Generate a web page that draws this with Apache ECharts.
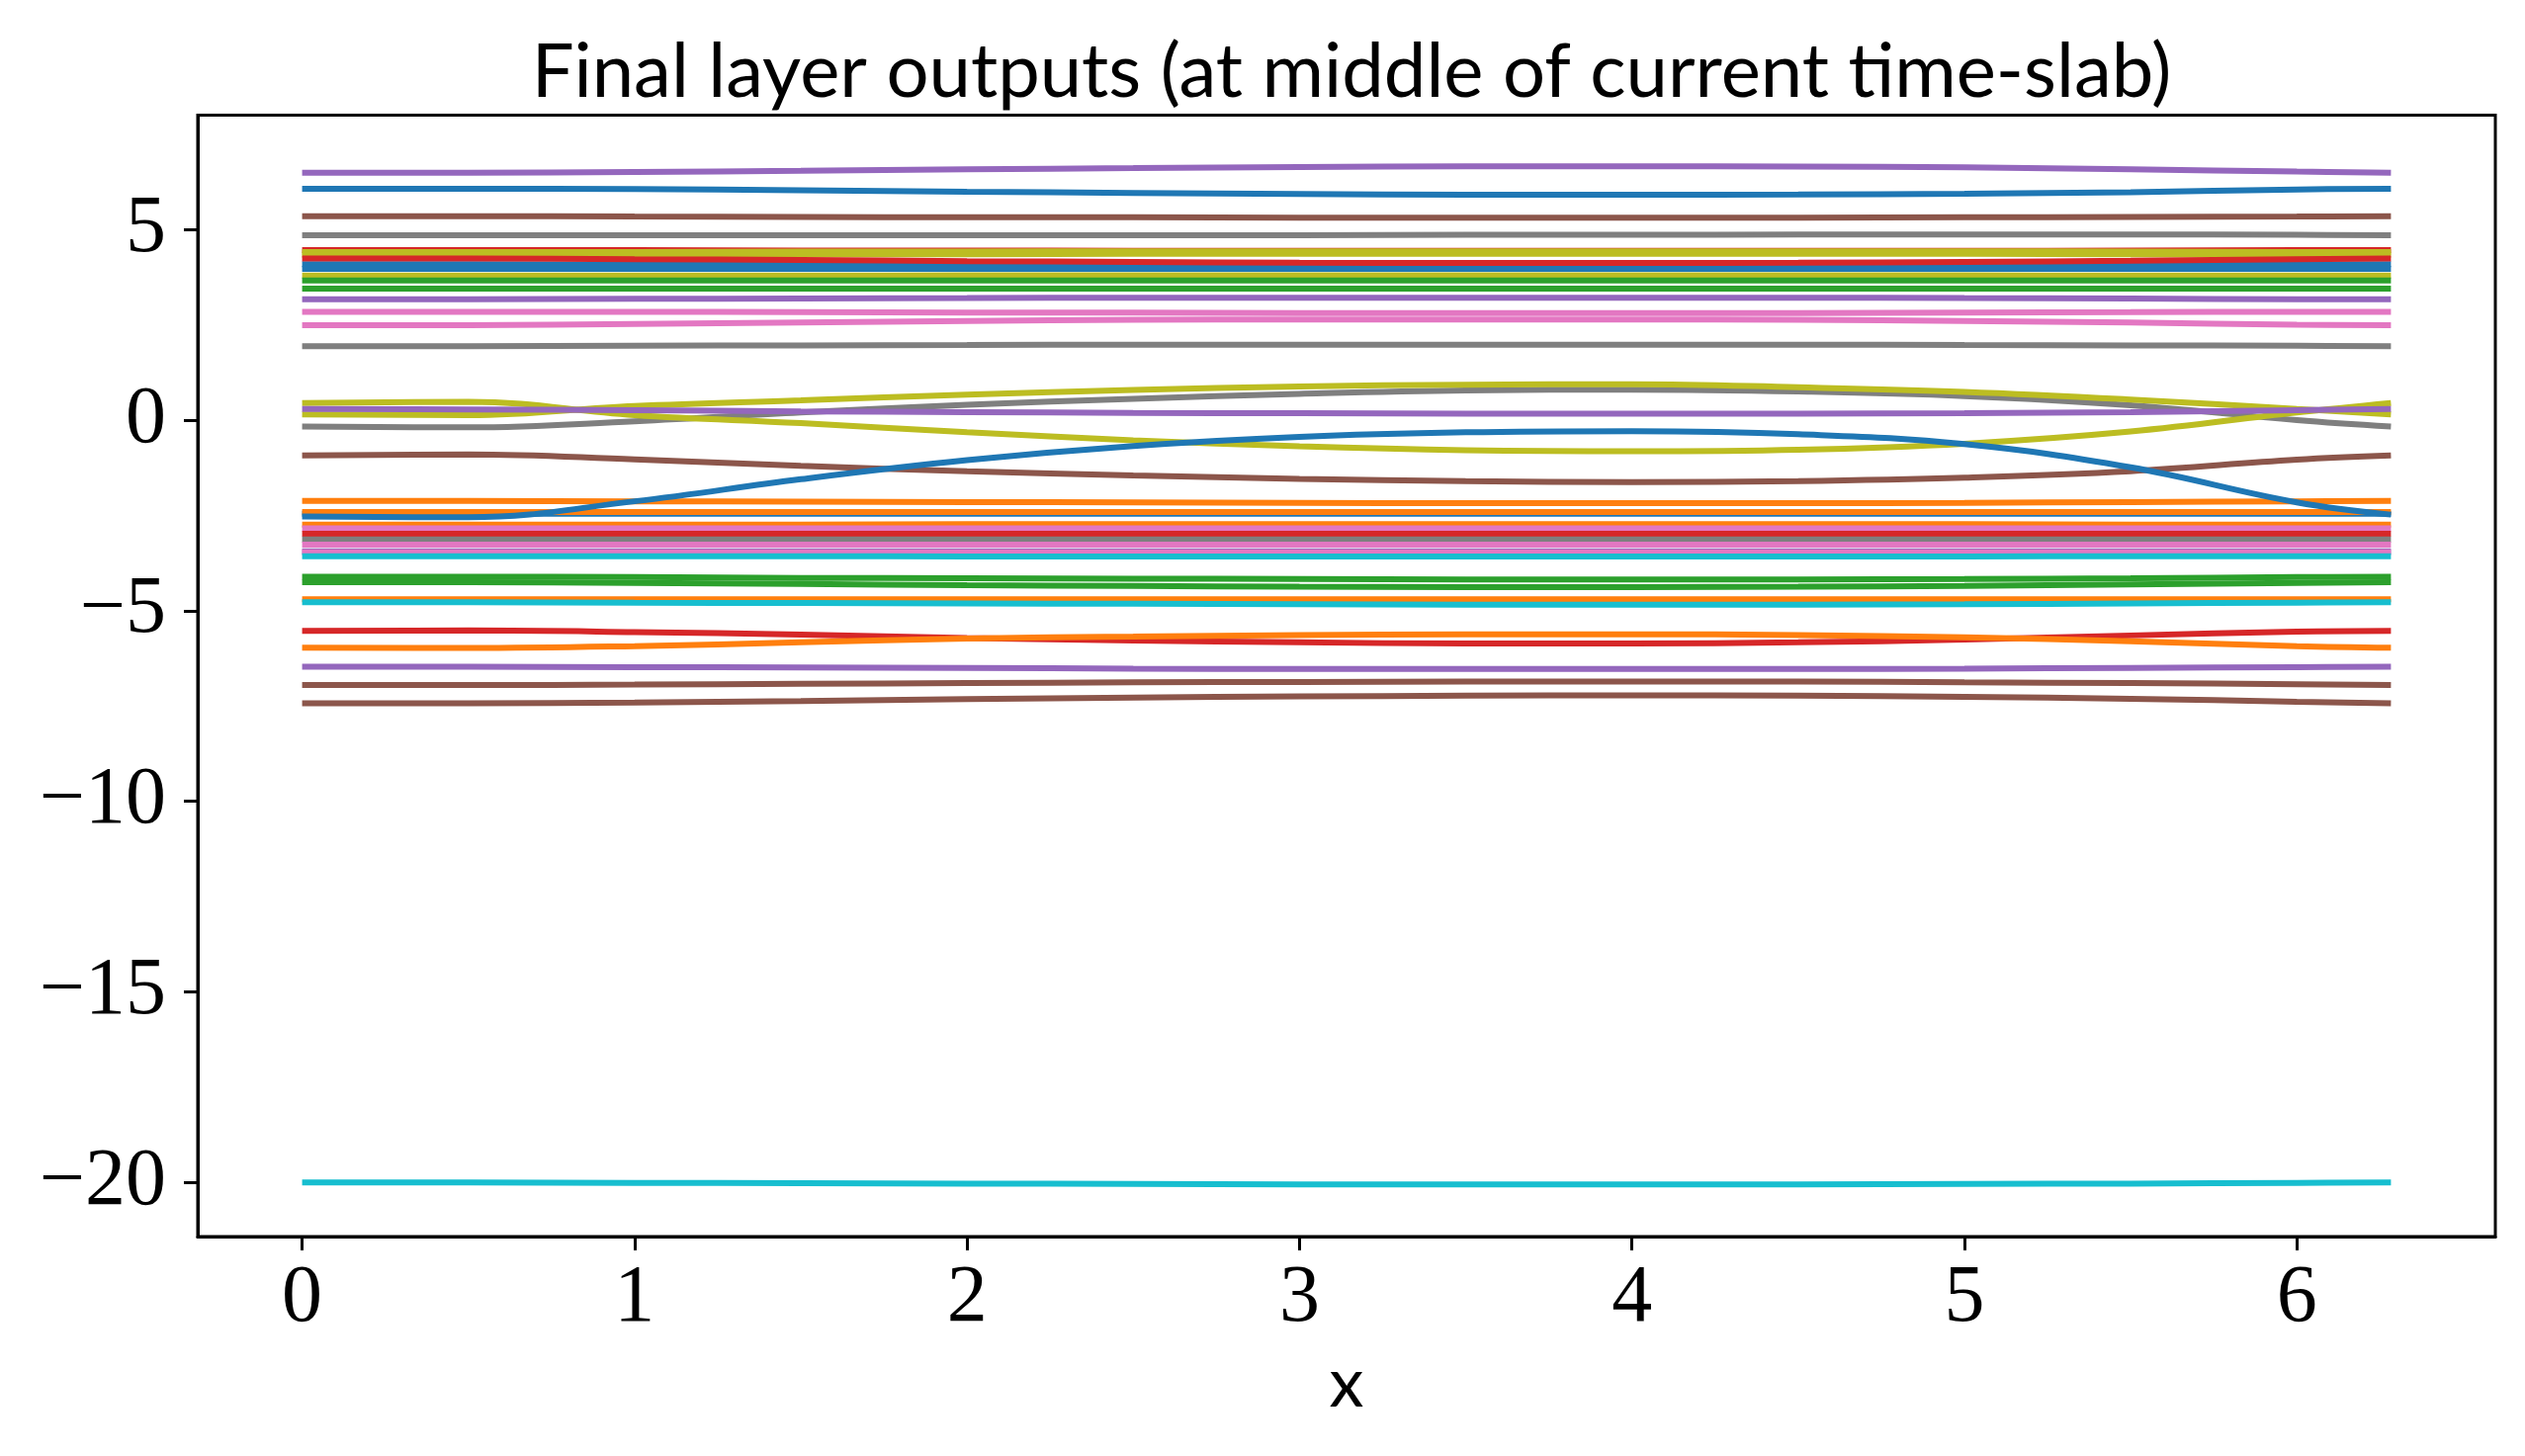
<!DOCTYPE html>
<html>
<head>
<meta charset="utf-8">
<script src="https://cdn.jsdelivr.net/npm/echarts@6/dist/echarts.min.js"></script>
<style>
html,body{margin:0;padding:0;background:#fff;}
#chart{width:2554px;height:1473px;}
</style>
</head>
<body>
<div id="chart"></div>
<script>
// x sample positions (0 .. 2*pi)
const xs = [0, 0.5, 1, 1.5, 2, 2.5, 3, 3.5, 4, 4.5, 5, 5.5, 6, 6.283];
const xTicks = [0, 1, 2, 3, 4, 5, 6];
const yTicks = [-20, -15, -10, -5, 0, 5];

// upper cluster
const purpleTop = [6.49,6.49,6.51,6.54,6.58,6.61,6.64,6.66,6.66,6.65,6.63,6.58,6.52,6.49];
const blueTop   = [6.07,6.07,6.06,6.03,5.99,5.96,5.93,5.91,5.91,5.92,5.94,5.98,6.05,6.07];
const brownTop  = [5.35,5.35,5.34,5.33,5.32,5.32,5.31,5.31,5.31,5.31,5.32,5.33,5.34,5.35];
const grayTop   = [4.85,4.85,4.85,4.85,4.85,4.85,4.85,4.86,4.86,4.87,4.87,4.87,4.86,4.85];
const red1      = [4.46,4.46,4.46,4.45,4.45,4.44,4.44,4.44,4.44,4.44,4.44,4.45,4.46,4.46];
const olive1    = [4.41,4.41,4.41,4.42,4.42,4.43,4.43,4.43,4.43,4.43,4.43,4.42,4.41,4.41];
const olive2    = [4.34,4.34,4.34,4.35,4.35,4.36,4.36,4.36,4.36,4.36,4.36,4.35,4.34,4.34];
const blue1     = [4.09,4.09,4.08,4.07,4.06,4.05,4.04,4.04,4.04,4.04,4.05,4.06,4.08,4.09];
const blue2     = [3.97,3.97,3.97,3.97,3.97,3.97,3.97,3.97,3.97,3.97,3.97,3.97,3.97,3.97];
const red2      = [4.24,4.24,4.22,4.20,4.17,4.15,4.13,4.12,4.12,4.13,4.15,4.18,4.22,4.24];
const olive3    = [3.79,3.79,3.79,3.79,3.80,3.80,3.80,3.80,3.80,3.80,3.80,3.79,3.79,3.79];
const green1    = [3.66,3.66,3.66,3.66,3.66,3.66,3.66,3.66,3.66,3.66,3.66,3.66,3.66,3.66];
const green2    = [3.45,3.45,3.45,3.45,3.45,3.45,3.45,3.45,3.45,3.45,3.45,3.45,3.45,3.45];
const purple2   = [3.17,3.17,3.18,3.19,3.20,3.21,3.21,3.21,3.21,3.21,3.20,3.19,3.17,3.17];
const pink1     = [2.84,2.84,2.84,2.83,2.82,2.82,2.81,2.81,2.81,2.81,2.82,2.83,2.84,2.84];
const pink2     = [2.49,2.49,2.52,2.56,2.60,2.63,2.64,2.64,2.64,2.63,2.60,2.56,2.50,2.49];
const gray2     = [1.94,1.94,1.95,1.96,1.97,1.98,1.98,1.98,1.98,1.98,1.97,1.96,1.95,1.94];

// crossing lines near zero
const grayMid   = [-0.17,-0.19,-0.03,0.20,0.40,0.56,0.69,0.78,0.80,0.75,0.63,0.39,0.00,-0.17];
const brownMid  = [-0.93,-0.90,-1.03,-1.20,-1.34,-1.45,-1.54,-1.60,-1.63,-1.60,-1.51,-1.34,-1.04,-0.93];
const oliveA    = [0.45,0.48,0.13,-0.08,-0.32,-0.53,-0.69,-0.79,-0.82,-0.78,-0.62,-0.30,0.20,0.45];
const oliveB    = [0.15,0.13,0.37,0.52,0.67,0.79,0.88,0.93,0.94,0.86,0.74,0.54,0.29,0.15];
const purpleMid = [0.29,0.28,0.26,0.23,0.21,0.19,0.18,0.17,0.17,0.17,0.18,0.21,0.26,0.29];
const blueWave  = [-2.53,-2.55,-2.13,-1.55,-1.05,-0.68,-0.44,-0.32,-0.29,-0.37,-0.63,-1.24,-2.16,-2.48];

// dense cluster
const orange1   = [-2.12,-2.12,-2.13,-2.14,-2.15,-2.16,-2.17,-2.18,-2.18,-2.18,-2.17,-2.15,-2.13,-2.12];
const blueFlat  = [-2.46,-2.46,-2.46,-2.46,-2.46,-2.46,-2.46,-2.46,-2.46,-2.46,-2.46,-2.46,-2.46,-2.46];
const orange2   = [-2.41,-2.41,-2.41,-2.41,-2.41,-2.41,-2.41,-2.41,-2.41,-2.41,-2.41,-2.41,-2.41,-2.41];
const orange3   = [-2.74,-2.74,-2.74,-2.74,-2.73,-2.73,-2.73,-2.73,-2.73,-2.73,-2.73,-2.74,-2.74,-2.74];
const pink3     = [-2.84,-2.84,-2.84,-2.84,-2.84,-2.84,-2.84,-2.84,-2.84,-2.84,-2.84,-2.84,-2.84,-2.84];
const red3      = [-2.98,-2.98,-2.98,-2.98,-2.98,-2.98,-2.98,-2.98,-2.98,-2.98,-2.98,-2.98,-2.98,-2.98];
const gray3     = [-3.13,-3.13,-3.13,-3.13,-3.13,-3.13,-3.13,-3.13,-3.13,-3.13,-3.13,-3.13,-3.13,-3.13];
const pink4     = [-3.27,-3.27,-3.27,-3.27,-3.27,-3.27,-3.27,-3.27,-3.27,-3.27,-3.27,-3.27,-3.27,-3.27];
const purpleC   = [-3.44,-3.44,-3.44,-3.44,-3.44,-3.44,-3.44,-3.44,-3.44,-3.44,-3.44,-3.44,-3.44,-3.44];
const pink5     = [-3.47,-3.47,-3.47,-3.47,-3.47,-3.47,-3.47,-3.47,-3.47,-3.47,-3.47,-3.47,-3.47,-3.47];
const cyan1     = [-3.57,-3.57,-3.57,-3.57,-3.58,-3.58,-3.58,-3.58,-3.58,-3.58,-3.58,-3.57,-3.57,-3.57];
const greenA    = [-4.11,-4.11,-4.12,-4.14,-4.15,-4.16,-4.17,-4.18,-4.18,-4.18,-4.17,-4.15,-4.12,-4.11];
const greenB    = [-4.25,-4.25,-4.27,-4.30,-4.33,-4.35,-4.37,-4.38,-4.38,-4.37,-4.35,-4.31,-4.27,-4.25];
const orange4   = [-4.70,-4.70,-4.70,-4.70,-4.70,-4.70,-4.70,-4.70,-4.70,-4.70,-4.70,-4.70,-4.70,-4.70];
const cyan2     = [-4.78,-4.78,-4.79,-4.80,-4.81,-4.82,-4.83,-4.84,-4.84,-4.84,-4.83,-4.81,-4.79,-4.78];

// lower lines
const red4      = [-5.53,-5.52,-5.56,-5.63,-5.72,-5.78,-5.83,-5.86,-5.86,-5.83,-5.76,-5.65,-5.55,-5.53];
const orange5   = [-5.97,-5.98,-5.93,-5.83,-5.73,-5.68,-5.64,-5.62,-5.62,-5.64,-5.70,-5.80,-5.93,-5.97];
const purple3   = [-6.47,-6.47,-6.48,-6.49,-6.50,-6.52,-6.53,-6.53,-6.53,-6.53,-6.52,-6.50,-6.48,-6.47];
const brown2    = [-6.95,-6.95,-6.94,-6.92,-6.90,-6.88,-6.87,-6.86,-6.86,-6.86,-6.88,-6.90,-6.93,-6.95];
const brown3    = [-7.43,-7.43,-7.41,-7.37,-7.32,-7.28,-7.25,-7.23,-7.22,-7.23,-7.26,-7.31,-7.39,-7.43];
const cyanBottom= [-20.00,-20.00,-20.01,-20.02,-20.03,-20.04,-20.05,-20.05,-20.05,-20.05,-20.04,-20.03,-20.01,-20.00];

const C = {blue:'#1f77b4', orange:'#ff7f0e', green:'#2ca02c', red:'#d62728', purple:'#9467bd',
           brown:'#8c564b', pink:'#e377c2', gray:'#7f7f7f', olive:'#bcbd22', cyan:'#17becf'};

const lines = [
  [purpleTop,'purple'],[blueTop,'blue'],[brownTop,'brown'],[grayTop,'gray'],
  [red1,'red'],[olive1,'olive'],[olive2,'olive'],[blue1,'blue'],[blue2,'blue'],[red2,'red'],
  [olive3,'olive'],[green1,'green'],[green2,'green'],[purple2,'purple'],[pink1,'pink'],[pink2,'pink'],[gray2,'gray'],
  [grayMid,'gray'],[brownMid,'brown'],[oliveA,'olive'],[oliveB,'olive'],[purpleMid,'purple'],
  [orange1,'orange'],[blueFlat,'blue'],[orange2,'orange'],[orange3,'orange'],[pink3,'pink'],[red3,'red'],
  [gray3,'gray'],[pink4,'pink'],[purpleC,'purple'],[pink5,'pink'],[cyan1,'cyan'],[greenA,'green'],[greenB,'green'],
  [orange4,'orange'],[cyan2,'cyan'],[blueWave,'blue'],
  [red4,'red'],[orange5,'orange'],[purple3,'purple'],[brown2,'brown'],[brown3,'brown'],[cyanBottom,'cyan']
];

const fmt = v => String(v).replace('-', '\u2212');

const chart = echarts.init(document.getElementById('chart'), null, {renderer:'canvas'});
chart.setOption({
  animation: false,
  backgroundColor: '#ffffff',
  title: {
    text: 'Final layer outputs (at middle of current time-slab)',
    left: 1362, top: 30, textAlign: 'center',
    textStyle: {fontFamily: 'Lato', fontWeight: 'normal', fontSize: 76, color: '#000'}
  },
  grid: {left: 200, right: 30, top: 116.5, bottom: 222, show: true, borderColor: '#000', borderWidth: 3, backgroundColor: 'transparent'},
  xAxis: {
    type: 'value', min: -0.314, max: 6.597,
    name: 'x', nameLocation: 'middle', nameGap: 114,
    nameTextStyle: {fontFamily: 'Lato', fontSize: 70, color: '#000'},
    axisLine: {show: true, onZero: false, lineStyle: {color: '#000', width: 3}},
    axisTick: {show: true, length: 14, inside: false, lineStyle: {color: '#000', width: 3}, customValues: xTicks},
    axisLabel: {fontFamily: 'Liberation Serif', fontSize: 82, color: '#000', margin: 22, customValues: xTicks, formatter: fmt},
    splitLine: {show: false}
  },
  yAxis: {
    type: 'value', min: -21.42, max: 8.0,
    axisLine: {show: true, onZero: false, lineStyle: {color: '#000', width: 3}},
    axisTick: {show: true, length: 14, inside: false, lineStyle: {color: '#000', width: 3}, customValues: yTicks},
    axisLabel: {fontFamily: 'Liberation Serif', fontSize: 82, color: '#000', margin: 32, customValues: yTicks, formatter: fmt},
    splitLine: {show: false}
  },
  series: lines.map(([arr, col]) => ({
    type: 'line',
    data: xs.map((x, i) => [x, arr[i]]),
    showSymbol: false,
    smooth: 0.4,
    silent: true,
    lineStyle: {color: C[col], width: 6},
    itemStyle: {color: C[col]}
  }))
});
</script>
</body>
</html>
